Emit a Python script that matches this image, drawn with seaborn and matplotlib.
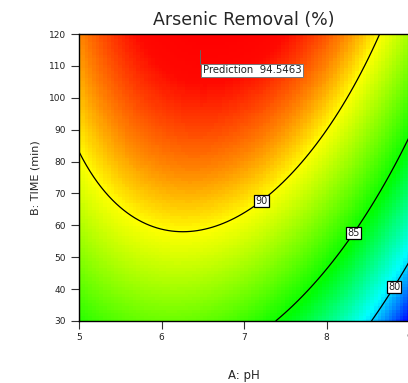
import numpy as np
import matplotlib
matplotlib.use("Agg")
import matplotlib.pyplot as plt
import matplotlib.colors as mcolors
import seaborn as sns

# fitted quadratic model in coded units a=(pH-7)/2, b=(time-75)/45
# terms: intercept, a, b, ab, a^2, b^2
model_terms = ["const", "A", "B", "AB", "A2", "B2"]
model_coef = [91.111, -2.9708, 4.3030, 1.1964, -4.6146, -0.8384]
ph_range = [5, 9]
time_range = [30, 120]
contour_levels = [80, 85, 90]
label_pos = [(8.8, 41), (8.3, 58), (7.2, 68)]
pred_point = (6.47, 115)
pred_value = 94.5463
x_ticks = [5, 6, 7, 8, 9]
y_ticks = [30, 40, 50, 60, 70, 80, 90, 100, 110, 120]

sns.set_theme(style="ticks")
plt.rcParams["font.family"] = ["DejaVu Sans"]

fig = plt.figure(figsize=(4.08, 3.83), dpi=100)
ax = fig.add_axes([0.1936, 0.1619, 0.809, 0.7493])

A, B = np.meshgrid(np.linspace(*ph_range, 90), np.linspace(*time_range, 90))
ga, gb = (A - 7) / 2, (B - 75) / 45
c = model_coef
Z = c[0] + c[1]*ga + c[2]*gb + c[3]*ga*gb + c[4]*ga**2 + c[5]*gb**2

cmap = mcolors.LinearSegmentedColormap.from_list(
    "de", [(0, "#0000ff"), (0.19, "#00ffff"), (0.43, "#00ff00"),
           (0.73, "#ffff00"), (0.83, "#ff8800"), (0.95, "#ff0800"), (1, "#ff0000")])
ax.pcolormesh(A, B, Z, cmap=cmap, shading="auto", rasterized=True)
cs = ax.contour(A, B, Z, levels=contour_levels, colors="black", linewidths=0.9)
labels = ax.clabel(cs, inline=False, fontsize=7, fmt="%d", manual=label_pos)
for t in labels:
    t.set_rotation(0)
    t.set_bbox(dict(boxstyle="square,pad=0.12", fc="white", ec="black", lw=0.9))
    t.set_color("#222222")

# prediction flag
px, py = pred_point
ax.plot([px, px], [py, py - 4.3], color="#666666", lw=0.7)
ax.text(px + 0.03, py - 6.3, f"Prediction  {pred_value}", fontsize=7.3,
        ha="left", va="center", color="#222222",
        bbox=dict(boxstyle="square,pad=0.15", fc="white", ec="#777777", lw=0.7))

ax.set_xlim(*ph_range)
ax.set_ylim(*time_range)
ax.set_xticks(x_ticks)
ax.set_yticks(y_ticks)
ax.tick_params(axis="both", labelsize=6.5, length=6, width=0.8, color="#333333",
               labelcolor="#222222")
ax.tick_params(axis="x", pad=3)
ax.tick_params(axis="y", pad=3.5)
for s in ax.spines.values():
    s.set_color("black")
    s.set_linewidth(1)

ax.set_title("Arsenic Removal (%)", fontsize=12.5, pad=6.5)
ax.set_xlabel("A: pH", fontsize=8.5, labelpad=19)
ax.set_ylabel("B: TIME (min)", fontsize=8, labelpad=6)

fig.savefig("out.png", dpi=100)
